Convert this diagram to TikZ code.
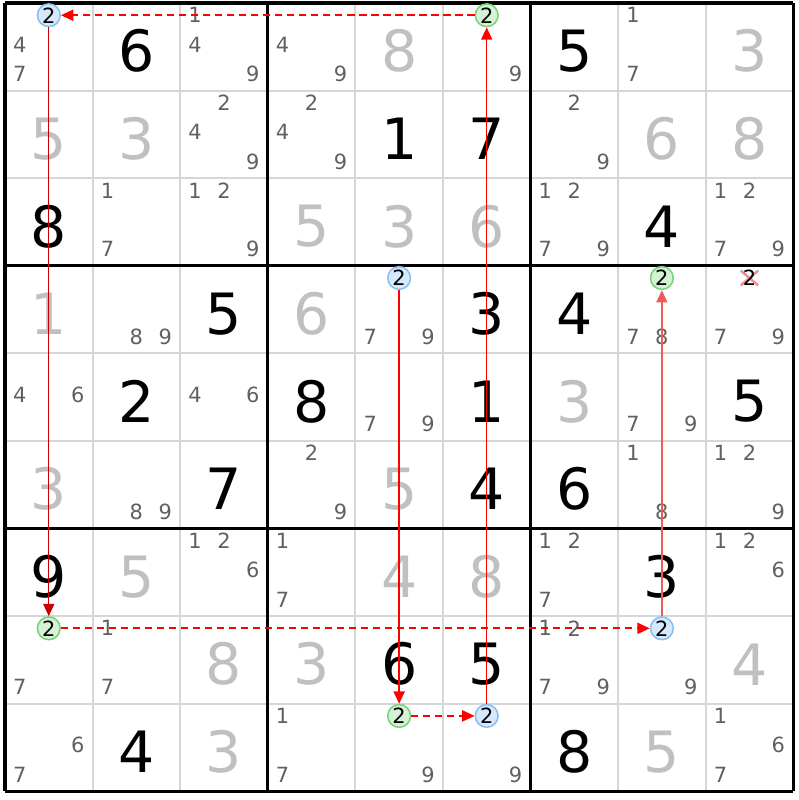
\documentclass[tikz,border=0pt]{standalone}
\usepackage{fontspec}
\setmainfont{DejaVu Sans}
\usetikzlibrary{arrows.meta, shapes.misc}
\definecolor{sud_grid}{RGB}{214, 214, 214}
\definecolor{sud_cand}{RGB}{96, 96, 96}
\definecolor{sud_solved}{RGB}{192, 192, 192}
\definecolor{sud_red}{RGB}{255, 0, 0}
\definecolor{sud_dark}{RGB}{200, 0, 0}
\definecolor{sud_soft}{RGB}{240, 90, 90}
\definecolor{sud_pink}{RGB}{240, 140, 150}
\definecolor{sud_blue}{RGB}{214, 232, 252}
\definecolor{sud_blue_line}{RGB}{140, 190, 240}
\definecolor{sud_green}{RGB}{214, 242, 214}
\definecolor{sud_green_line}{RGB}{120, 210, 120}

\begin{document}
\begin{tikzpicture}[
        cellline/.style={line width=0.65pt, color=sud_grid},
        boxline/.style={line width=1pt, color=black},
        given/.style={inner sep=0pt, font=\fontsize{18.5}{20}\selectfont, text=black},
        solved/.style={given, text=sud_solved},
        cand/.style={inner sep=0pt, font=\fontsize{6.8}{8}\selectfont, text=sud_cand},
        bluecand/.style={circle, draw=sud_blue_line, fill=sud_blue, line width=0.5pt,
                         minimum size=0.26cm, inner sep=0pt, font=\fontsize{6.8}{8}\selectfont},
        greencand/.style={bluecand, draw=sud_green_line, fill=sud_green},
        link/.style={-{Triangle[length=4pt, width=3.6pt]}, line width=0.5pt, color=sud_red},
        weak/.style={link, line width=0.55pt, dash pattern=on 2.3pt off 1.6pt},
      ]
        \useasboundingbox (-0.057, -0.1) rectangle (9.057, 9.034);

        % grid
        \foreach \i in {1,...,8}
          \draw[cellline] (\i, 0) -- (\i, 9) (0, \i) -- (9, \i);
        \foreach \i in {0, 3, 6, 9}
          \draw[boxline] (\i, 0) -- (\i, 9) (0, \i) -- (9, \i);

        % givens
        \foreach \r/\c/\d in {1/2/6, 1/7/5, 2/5/1, 2/6/7, 3/1/8, 3/8/4, 4/3/5, 4/6/3,
                              4/7/4, 5/2/2, 5/4/8, 5/6/1, 5/9/5, 6/3/7, 6/6/4, 6/7/6,
                              7/1/9, 7/8/3, 8/5/6, 8/6/5, 9/2/4, 9/7/8}
          \node[given] (g\r\c) at (\c-0.5, 9.45-\r) {\d};

        % solved
        \foreach \r/\c/\d in {1/5/8, 1/9/3, 2/1/5, 2/2/3, 2/8/6, 2/9/8, 3/4/5, 3/5/3,
                              3/6/6, 4/1/1, 4/4/6, 5/7/3, 6/1/3, 6/5/5, 7/2/5, 7/5/4,
                              7/6/8, 8/3/8, 8/4/3, 8/9/4, 9/3/3, 9/8/5}
          \node[solved] (s\r\c) at (\c-0.5, 9.45-\r) {\d};

        % candidates
        \foreach \r/\c/\k in {1/1/4, 1/1/7, 1/3/1, 1/3/4, 1/3/9, 1/4/4, 1/4/9, 1/6/9,
                              1/8/1, 1/8/7, 2/3/2, 2/3/4, 2/3/9, 2/4/2, 2/4/4, 2/4/9,
                              2/7/2, 2/7/9, 3/2/1, 3/2/7, 3/3/1, 3/3/2, 3/3/9, 3/7/1,
                              3/7/2, 3/7/7, 3/7/9, 3/9/1, 3/9/2, 3/9/7, 3/9/9, 4/2/8,
                              4/2/9, 4/5/7, 4/5/9, 4/8/7, 4/8/8, 4/9/7, 4/9/9, 5/1/4,
                              5/1/6, 5/3/4, 5/3/6, 5/5/7, 5/5/9, 5/8/7, 5/8/9, 6/2/8,
                              6/2/9, 6/4/2, 6/4/9, 6/8/1, 6/8/8, 6/9/1, 6/9/2, 6/9/9,
                              7/3/1, 7/3/2, 7/3/6, 7/4/1, 7/4/7, 7/7/1, 7/7/2, 7/7/7,
                              7/9/1, 7/9/2, 7/9/6, 8/1/7, 8/2/1, 8/2/7, 8/7/1, 8/7/2,
                              8/7/7, 8/7/9, 8/8/9, 9/1/6, 9/1/7, 9/4/1, 9/4/7, 9/5/9,
                              9/6/9, 9/9/1, 9/9/6, 9/9/7}
          \node[cand] (p\r\c\k) at ({\c-0.83+0.33*mod(\k-1,3)}, {9.86-\r-0.335*floor((\k-1)/3)}) {\k};

        % eliminated 2
        \node[cross out, draw=sud_pink, line width=0.8pt, minimum width=0.17cm,
              minimum height=0.14cm, inner sep=0pt] (x49) at (8.5, 5.86) {};
        \node[cand, text=black] (p492) at (8.5, 5.86) {2};

        % chain
        \foreach \r/\c/\s in {1/1/bluecand, 1/6/greencand, 4/5/bluecand, 4/8/greencand,
                              8/1/greencand, 8/8/bluecand, 9/5/greencand, 9/6/bluecand}
          \node[\s] (c\r\c) at (\c-0.5, 9.86-\r) {2};

        \draw[weak] (c16) -- (c11);
        \draw[link, color=sud_dark, line width=0.4pt] (c11) -- (c81);
        \draw[weak] (c81) -- (c88);
        \draw[link, color=sud_soft] (c88) -- (c48);
        \draw[link] (c45) -- (c95);
        \draw[weak] (c95) -- (c96);
        \draw[link] (c96) -- (c16);
      \end{tikzpicture}
\end{document}
